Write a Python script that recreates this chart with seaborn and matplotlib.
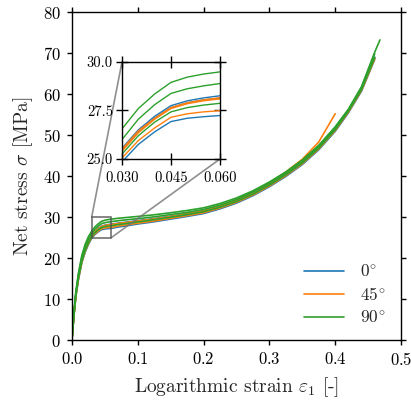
import numpy as np
import pandas as pd
import matplotlib
matplotlib.use("Agg")
import matplotlib.pyplot as plt
import seaborn as sns

# ---------------- data ----------------
strain = [0, 0.003, 0.006, 0.01, 0.015, 0.02, 0.025, 0.03, 0.035, 0.04, 0.045,
          0.05, 0.055, 0.06, 0.07, 0.08, 0.1, 0.125, 0.15, 0.175, 0.2, 0.225,
          0.25, 0.275, 0.3, 0.325, 0.35, 0.375, 0.4, 0.42, 0.44, 0.46, 0.468]

orientations = ["$0^{\\!\\circ}$", "$45^{\\!\\circ}$", "$90^{\\!\\circ}$"]

blue_1 = [0, 6.2, 11.2, 15.6, 19.7, 22.3, 24.1, 25.55, 26.5, 27.2, 27.75, 28.0, 28.15, 28.26,
          28.5, 28.7, 29.1, 29.6, 30.2, 30.8, 31.5, 32.6, 34.0, 35.8, 38.0, 40.5, 43.4, 47.0,
          51.5, 56.0, 61.3, 69.0]
blue_2 = [0, 5.8, 10.6, 14.8, 18.8, 21.4, 23.3, 24.85, 25.75, 26.4, 26.93, 27.1, 27.18, 27.24,
          27.55, 27.8, 28.3, 28.85, 29.5, 30.15, 30.85, 32.0, 33.4, 35.2, 37.4, 39.9, 42.8, 46.4,
          50.9, 55.4, 60.7, 68.4]
blue_3 = [0, 6.1, 11.1, 15.5, 19.6, 22.2, 24.0, 25.45, 26.4, 27.1, 27.65, 27.9, 28.05, 28.14,
          28.4, 28.6, 29.0, 29.5, 30.1, 30.7, 31.4, 32.5, 33.9, 35.7, 37.9, 40.4, 43.3, 46.9,
          51.4, 55.9, 61.2, 68.8]

orange_1 = [0, 6.1, 11.1, 15.5, 19.6, 22.2, 24.0, 25.5, 26.45, 27.1, 27.65, 27.9, 28.05, 28.16,
            28.4, 28.6, 29.0, 29.5, 30.1, 30.75, 31.5, 32.65, 34.1, 36.0, 38.3, 41.0, 44.1, 48.3,
            55.2]
orange_2 = [0, 6.1, 11.0, 15.4, 19.5, 22.1, 23.9, 25.4, 26.35, 27.05, 27.6, 27.85, 28.0, 28.1,
            28.35, 28.55, 28.95, 29.45, 30.05, 30.65, 31.35, 32.45, 33.85, 35.65, 37.85, 40.35,
            43.25, 46.85, 51.35, 55.8, 61.1, 68.8]
orange_3 = [0, 5.9, 10.8, 15.0, 19.0, 21.6, 23.5, 25.05, 25.95, 26.6, 27.15, 27.33, 27.43, 27.49,
            27.8, 28.05, 28.5, 29.05, 29.7, 30.35, 31.05, 32.2, 33.6, 35.4, 37.6, 40.1, 43.0, 46.6,
            51.1, 55.6, 60.9, 68.6]

green_1 = [0, 6.7, 11.9, 16.4, 20.6, 23.3, 25.2, 26.55, 27.6, 28.35, 28.95, 29.22, 29.38, 29.49,
           29.7, 29.85, 30.15, 30.55, 31.05, 31.6, 32.25, 33.3, 34.65, 36.4, 38.55, 41.0, 43.9,
           47.5, 52.0, 56.3, 61.8, 70.2, 73.2]
green_2 = [0, 6.4, 11.5, 16.0, 20.2, 22.8, 24.6, 26.0, 27.05, 27.8, 28.38, 28.62, 28.77, 28.89,
           29.1, 29.28, 29.6, 30.05, 30.6, 31.15, 31.85, 32.9, 34.3, 36.1, 38.3, 40.8, 43.7, 47.3,
           51.8, 56.1, 61.6, 69.8]
green_3 = [0, 6.0, 10.9, 15.2, 19.2, 21.8, 23.7, 25.25, 26.2, 26.9, 27.43, 27.65, 27.78, 27.87,
           28.15, 28.35, 28.8, 29.35, 29.95, 30.6, 31.3, 32.4, 33.8, 35.6, 37.8, 40.3, 43.2, 46.8,
           51.3, 55.8, 61.1, 68.9]

x_ticks = [0.0, 0.1, 0.2, 0.3, 0.4, 0.5]
y_ticks = [0, 10, 20, 30, 40, 50, 60, 70, 80]
inset_x_ticks = [0.030, 0.045, 0.060]
inset_y_ticks = [25.0, 27.5, 30.0]
inset_x_labels = ["0.030", "0.045", "0.060"]
inset_y_labels = ["25.0", "27.5", "30.0"]

curves = [
    (orientations[0], "b1", blue_1), (orientations[0], "b2", blue_2), (orientations[0], "b3", blue_3),
    (orientations[1], "o1", orange_1), (orientations[1], "o2", orange_2), (orientations[1], "o3", orange_3),
    (orientations[2], "g1", green_1), (orientations[2], "g2", green_2), (orientations[2], "g3", green_3),
]
rows = []
for ori, spec, vals in curves:
    for e, s in zip(strain, vals):
        rows.append({"strain": e, "stress": s, "orientation": ori, "specimen": spec})
df = pd.DataFrame(rows)

palette = {orientations[0]: "#1f77b4", orientations[1]: "#ff7f0e", orientations[2]: "#2ca02c"}

# ---------------- style ----------------
sns.set_style("ticks")
plt.rcParams["font.family"] = ["cmr10", "DejaVu Serif"]
plt.rcParams["mathtext.fontset"] = "cm"
plt.rcParams["axes.formatter.use_mathtext"] = True
plt.rcParams["axes.unicode_minus"] = False

fig = plt.figure(figsize=(4.11, 4.01), dpi=100)
ax = fig.add_axes([0.175, 0.152, 0.8007, 0.818])

sns.lineplot(data=df, x="strain", y="stress", hue="orientation", units="specimen",
             estimator=None, palette=palette, lw=1.2, ax=ax, sort=False)

ax.set_xlim(0, 0.5)
ax.set_ylim(0, 80)
ax.set_xticks(x_ticks)
ax.set_yticks(y_ticks)
ax.set_xlabel("Logarithmic strain $\\varepsilon_1$ [-]", fontsize=14, labelpad=5)
ax.set_ylabel("Net stress $\\sigma$ [MPa]", fontsize=14, labelpad=6)
ax.tick_params(direction="out", top=True, right=True, labelsize=12, length=3.8, width=1,
               colors="black", pad=4)
for sp in ax.spines.values():
    sp.set_color("black")
    sp.set_linewidth(1.0)

h, l = ax.get_legend_handles_labels()
ax.legend(h, l, loc="lower right", frameon=False, fontsize=12.5, handlelength=2.3,
          bbox_to_anchor=(1.0, -0.005), labelspacing=0.38, handletextpad=0.9)

# ---------------- inset ----------------
axins = fig.add_axes([0.2968, 0.6035, 0.2384, 0.2419])
sns.lineplot(data=df, x="strain", y="stress", hue="orientation", units="specimen",
             estimator=None, palette=palette, lw=1.0, ax=axins, sort=False, legend=False)
axins.set_xlim(0.03, 0.06)
axins.set_ylim(25, 30)
axins.set_xticks(inset_x_ticks)
axins.set_yticks(inset_y_ticks)
axins.set_xticklabels(inset_x_labels)
axins.set_yticklabels(inset_y_labels)
axins.set_xlabel("")
axins.set_ylabel("")
axins.tick_params(direction="inout", top=True, right=True, labelsize=10.5, length=9, width=1,
                  colors="black", pad=2)
axins.tick_params(axis="x", pad=4)
for sp in axins.spines.values():
    sp.set_color("black")
    sp.set_linewidth(1.0)

ind = ax.indicate_inset_zoom(axins, edgecolor="0.3", alpha=0.8, linewidth=1.2)
try:
    cons = ind.connectors
except AttributeError:
    cons = ind[1]
# connectors: lower-left, upper-left, lower-right, upper-right
for i, c in enumerate(cons):
    c.set_visible(i in (1, 2))
    c.set_color("0.45")
    c.set_linewidth(1.2)

fig.savefig("out.png", dpi=100)
